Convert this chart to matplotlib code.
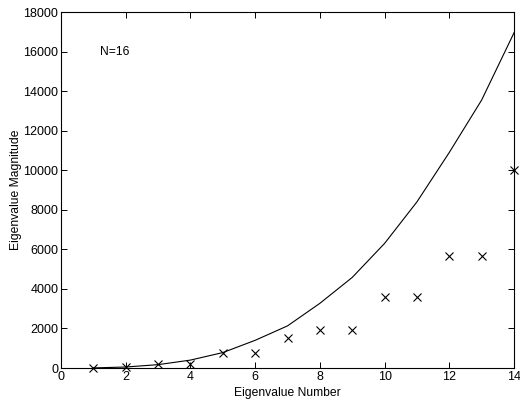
import matplotlib
matplotlib.use("Agg")
import matplotlib.pyplot as plt

plt.rcParams['font.family'] = ['Liberation Sans', 'DejaVu Sans']

eig_num = list(range(1, 15))
line_vals = [5, 50, 170, 400, 780, 1400, 2130, 3270, 4580, 6300, 8400, 10900, 13550, 16950]
marker_vals = [0, 50, 200, 180, 780, 780, 1500, 1900, 1900, 3600, 3600, 5680, 5680, 10000]

fig = plt.figure(figsize=(5.2, 4.07), dpi=100)
ax = fig.add_axes([0.1173, 0.0958, 0.8712, 0.8747])

ax.plot(eig_num, line_vals, color='black', linewidth=0.8)
ax.plot(eig_num, marker_vals, linestyle='none', marker='x', color='black',
        markersize=5.5, markeredgewidth=0.8, clip_on=False)

ax.set_xlim(0, 14)
ax.set_ylim(0, 18000)
ax.set_xticks(range(0, 15, 2))
ax.set_yticks(range(0, 18001, 2000))
ax.tick_params(direction='in', top=True, right=True, labelsize=9, length=4, width=0.7, pad=2)
for s in ax.spines.values():
    s.set_linewidth(0.8)

ax.set_xlabel('Eigenvalue Number', fontsize=8.7, labelpad=3)
ax.set_ylabel('Eigenvalue Magnitude', fontsize=8.7, labelpad=1)
ax.text(1.2, 16000, 'N=16', fontsize=8.7, ha='left', va='center')

fig.savefig('out.png', dpi=100)
